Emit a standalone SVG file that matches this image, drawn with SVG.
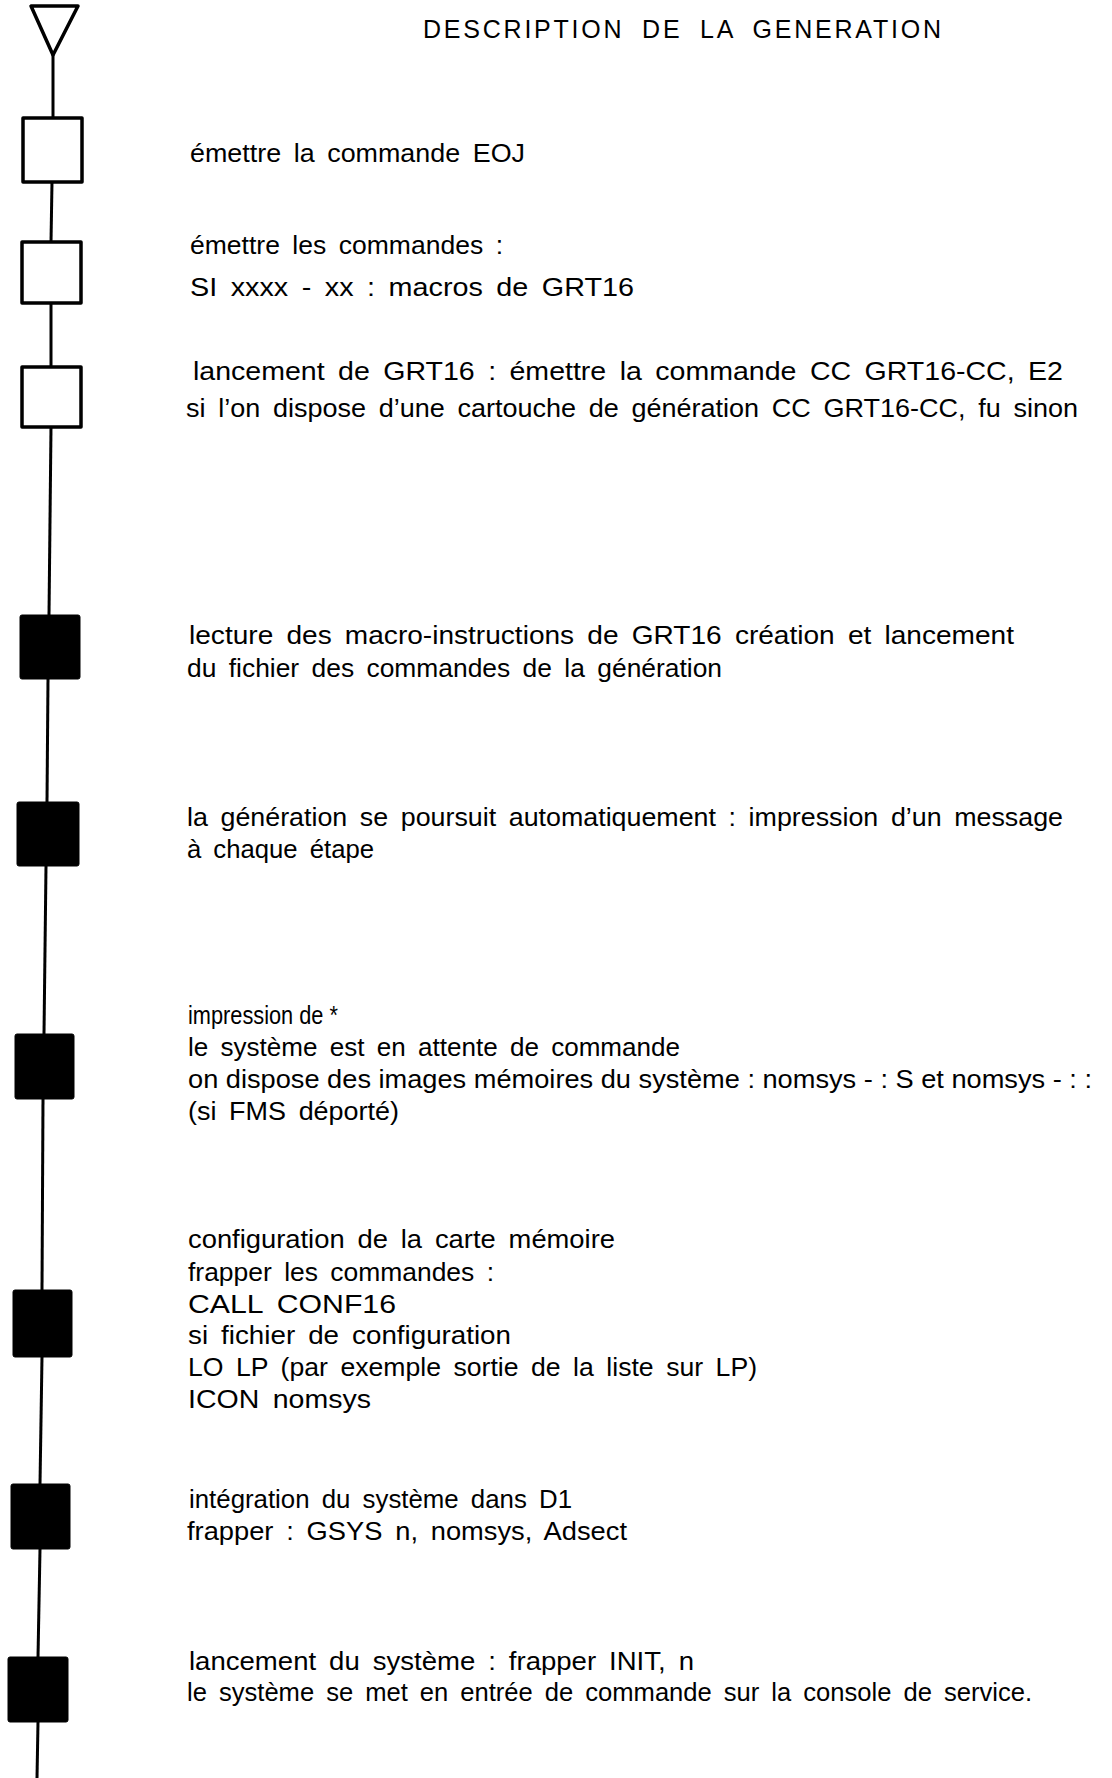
<svg xmlns="http://www.w3.org/2000/svg" width="1112" height="1778" viewBox="0 0 1112 1778">
<style>
.bg{fill:#ffffff}
.open{fill:#ffffff;stroke:#000000;stroke-width:3.5;stroke-linejoin:round}
.solid{fill:#000000;stroke:#000000;stroke-width:1}
.conn{stroke:#000000;stroke-width:3;fill:none}
text{font-family:"Liberation Sans",Arial,sans-serif;font-size:26px;fill:#000000;word-spacing:5px}
.title{font-size:25px;word-spacing:8px}
.tight{word-spacing:0px}
.long{word-spacing:0px;font-size:25px}
</style>
<rect class="bg" x="0" y="0" width="1112" height="1778"/>
<g id="connectors">
<line class="conn" x1="53" y1="55" x2="53" y2="118"/>
<line class="conn" x1="52" y1="182" x2="51" y2="242"/>
<line class="conn" x1="51" y1="303" x2="51" y2="367"/>
<line class="conn" x1="51" y1="427" x2="49" y2="615"/>
<line class="conn" x1="48" y1="679" x2="47" y2="802"/>
<line class="conn" x1="46" y1="866" x2="44" y2="1034"/>
<line class="conn" x1="43" y1="1099" x2="42" y2="1290"/>
<line class="conn" x1="42" y1="1357" x2="40" y2="1484"/>
<line class="conn" x1="40" y1="1549" x2="38" y2="1657"/>
<line class="conn" x1="38" y1="1722" x2="37" y2="1778"/>
</g>
<g id="title"><text class="title" x="423" y="38" textLength="518" lengthAdjust="spacing">DESCRIPTION DE LA GENERATION</text></g>
<g id="start"><polygon class="open" points="31,6 78,6 53,55"/></g>
<g id="step1">
<rect class="open" x="23" y="118" width="59" height="64"/>
<text x="190" y="162" textLength="335" lengthAdjust="spacingAndGlyphs">émettre la commande EOJ</text>
</g>
<g id="step2">
<rect class="open" x="22" y="242" width="59" height="61"/>
<text x="190" y="254" textLength="313" lengthAdjust="spacingAndGlyphs">émettre les commandes :</text>
<text x="190" y="296" textLength="444" lengthAdjust="spacingAndGlyphs">SI xxxx - xx : macros de GRT16</text>
</g>
<g id="step3">
<rect class="open" x="22" y="367" width="59" height="60"/>
<text x="193" y="380" textLength="870" lengthAdjust="spacingAndGlyphs">lancement de GRT16 : émettre la commande CC GRT16-CC, E2</text>
<text x="186" y="417" textLength="892" lengthAdjust="spacingAndGlyphs">si l’on dispose d’une cartouche de génération CC GRT16-CC, fu sinon</text>
</g>
<g id="step4">
<rect class="solid" x="20" y="615" width="60" height="64" rx="2"/>
<text x="189" y="644" textLength="825" lengthAdjust="spacingAndGlyphs">lecture des macro-instructions de GRT16 création et lancement</text>
<text x="187" y="677" textLength="535" lengthAdjust="spacingAndGlyphs">du fichier des commandes de la génération</text>
</g>
<g id="step5">
<rect class="solid" x="17" y="802" width="62" height="64" rx="2"/>
<text x="187" y="826" textLength="876" lengthAdjust="spacingAndGlyphs">la génération se poursuit automatiquement : impression d’un message</text>
<text x="187" y="858" textLength="187" lengthAdjust="spacingAndGlyphs">à chaque étape</text>
</g>
<g id="step6">
<rect class="solid" x="15" y="1034" width="59" height="65" rx="2"/>
<text class="tight" x="188" y="1024" textLength="150" lengthAdjust="spacingAndGlyphs">impression de *</text>
<text x="188" y="1056" textLength="492" lengthAdjust="spacingAndGlyphs">le système est en attente de commande</text>
<text class="long" x="188" y="1088" textLength="904" lengthAdjust="spacingAndGlyphs">on dispose des images mémoires du système : nomsys - : S et nomsys - : :</text>
<text x="188" y="1120" textLength="211" lengthAdjust="spacingAndGlyphs">(si FMS déporté)</text>
</g>
<g id="step7">
<rect class="solid" x="13" y="1290" width="59" height="67" rx="2"/>
<text x="188" y="1248" textLength="427" lengthAdjust="spacingAndGlyphs">configuration de la carte mémoire</text>
<text x="188" y="1281" textLength="306" lengthAdjust="spacingAndGlyphs">frapper les commandes :</text>
<text x="188" y="1313" textLength="208" lengthAdjust="spacingAndGlyphs">CALL CONF16</text>
<text x="188" y="1344" textLength="323" lengthAdjust="spacingAndGlyphs">si fichier de configuration</text>
<text x="188" y="1376" textLength="569" lengthAdjust="spacingAndGlyphs">LO LP (par exemple sortie de la liste sur LP)</text>
<text x="188" y="1408" textLength="183" lengthAdjust="spacingAndGlyphs">ICON nomsys</text>
</g>
<g id="step8">
<rect class="solid" x="11" y="1484" width="59" height="65" rx="2"/>
<text x="189" y="1508" textLength="383" lengthAdjust="spacingAndGlyphs">intégration du système dans D1</text>
<text x="187" y="1540" textLength="440" lengthAdjust="spacingAndGlyphs">frapper : GSYS n, nomsys, Adsect</text>
</g>
<g id="step9">
<rect class="solid" x="8" y="1657" width="60" height="65" rx="2"/>
<text x="189" y="1670" textLength="505" lengthAdjust="spacingAndGlyphs">lancement du système : frapper INIT, n</text>
<text x="187" y="1701" textLength="845" lengthAdjust="spacingAndGlyphs">le système se met en entrée de commande sur la console de service.</text>
</g>
</svg>
